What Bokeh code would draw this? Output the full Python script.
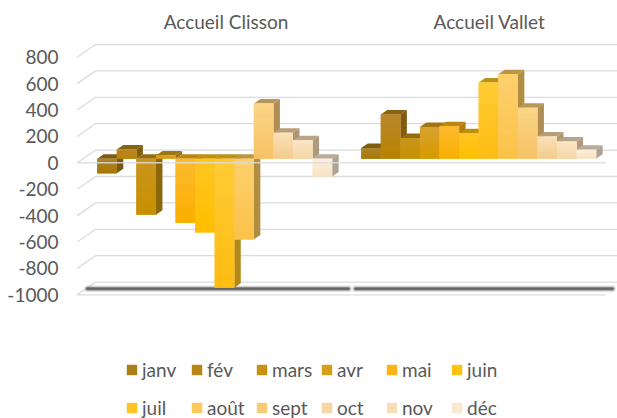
from bokeh.plotting import figure
from bokeh.models import Legend, LegendItem, FixedTicker, Range1d
from bokeh.core.properties import value
from bokeh.embed import file_html
from bokeh.resources import INLINE

months = ["janv", "fév", "mars", "avr", "mai", "juin", "juil", "août", "sept", "oct", "nov", "déc"]
groups = ["Accueil Clisson", "Accueil Vallet"]
clisson = [-110, 71, -424, 25, -485, -558, -977, -611, 419, 197, 141, -134]
vallet = [81, 336, 157, 240, 247, 194, 578, 641, 386, 169, 131, 68]
y_ticks = [800, 600, 400, 200, 0, -200, -400, -600, -800, -1000]

top_colors = ["#ab8430", "#b9862a", "#c8951f", "#d9a12e", "#fdb92e", "#ffc522",
              "#ffcb33", "#fdd06c", "#fbd485", "#fbe0b8", "#fbe6c8", "#fbeedd"]
bottom_colors = ["#a87700", "#b88300", "#c89000", "#d99a00", "#f9b000", "#ffbf00",
                 "#fdbd14", "#fbc24a", "#f6c266", "#f3cc8c", "#f5d6a5", "#f8e2c2"]

W, H = 617, 418
LEFT = 76
PX_X = 19.58          # pixels per bar
PX_Y = 26.4 / 200     # pixels per value unit
X0_PX = 96.7          # first bar's left edge
Y0_PX = 162.3         # zero on the front plane


def hexrgb(c):
    return [int(c[i:i + 2], 16) for i in (1, 3, 5)]


def mix(a, b, t):
    return "#%02x%02x%02x" % tuple(round(p + (q - p) * t) for p, q in zip(hexrgb(a), hexrgb(b)))


def shade(c, f):
    return "#%02x%02x%02x" % tuple(round(p * f) for p in hexrgb(c))


def xval(px):
    return (px - X0_PX) / PX_X


def yval(px):
    return (Y0_PX - px) / PX_Y


p = figure(width=W, height=H, output_backend="svg", toolbar_location=None,
           x_range=Range1d(xval(LEFT), xval(W)), y_range=Range1d(yval(H), yval(0)),
           x_axis_location=None, min_border_left=LEFT, min_border_right=0,
           min_border_top=0, min_border_bottom=0, outline_line_color=None)
p.xgrid.visible = False
p.ygrid.visible = False

ax = p.yaxis[0]
ax.ticker = FixedTicker(ticks=y_ticks)
ax.major_label_overrides = {t: str(t) for t in y_ticks}
ax.axis_line_color = None
ax.major_tick_line_color = None
ax.minor_tick_line_color = None
ax.major_tick_out = 0
ax.major_tick_in = 0
ax.minor_tick_out = 0
ax.minor_tick_in = 0
ax.major_label_standoff = 18
ax.major_label_text_font = "Lato"
ax.major_label_text_font_size = "19px"
ax.major_label_text_color = "#595959"

# walls
xf, xb, xe, xfe = xval(76.7), xval(95), xval(W), xval(605)
WALL_DX_Y = 12.7 / PX_Y
wall_xs, wall_ys = [], []
for t in y_ticks:
    wall_xs.append([xf, xb, xe])
    wall_ys.append([t, t + WALL_DX_Y, t + WALL_DX_Y])
p.multi_line(wall_xs, wall_ys, line_color="#dcdcdc", line_width=1.3)
p.line([xf, xfe], [-1000, -1000], line_color="#dcdcdc", line_width=1.3)

# floor shadow
sy = yval(288.3)
for (a, b) in ((xval(87), xval(348)), (xval(355), xval(612))):
    for lw, al in ((7, 0.1), (5, 0.2), (3.5, 0.4), (2, 0.5)):
        p.line([a, b], [sy, sy], line_color="#3c3c3c", line_width=lw, line_alpha=al, line_cap="round")

# bars
PLANE = 4 / PX_Y
DDX = 6.5 / PX_X
DDY = 4.5 / PX_Y
STEPS = 10
starts = [0, xval(360.7)]
series = [clisson, vallet]
legend_renderers = {}

for start, vals in zip(starts, series):
    for m, v in enumerate(vals):
        x = start + m
        top = max(v, 0) + PLANE
        bot = min(v, 0) + PLANE
        mid = mix(top_colors[m], bottom_colors[m], 0.5)
        p.patch([x + 1, x + 1 + DDX, x + 1 + DDX, x + 1], [bot, bot + DDY, top + DDY, top],
                fill_color=shade(mid, 0.7), line_color=None)
        p.patch([x, x + DDX, x + 1 + DDX, x + 1], [top, top + DDY, top + DDY, top],
                fill_color=shade(mid, 0.74), line_color=None)
        r = p.vbar(x=[x + 0.5], width=1, bottom=[bot], top=[top], fill_color=mid, line_color=None)
        legend_renderers.setdefault(m, r)
        h = (top - bot) / STEPS
        for s in range(STEPS):
            p.quad(left=[x], right=[x + 1], top=[top - s * h], bottom=[top - (s + 1) * h - 0.5],
                   fill_color=mix(top_colors[m], bottom_colors[m], s / (STEPS - 1)), line_color=None)

# front line at zero, passing over the bars
p.line([xf, xfe], [0, 0], line_color="#dcdcdc", line_width=1.5, line_alpha=0.85)

# group titles
p.text(x=[xval(225.5), xval(489)], y=[yval(21), yval(21)], text=groups,
       text_font=value("Lato"), text_font_size="19px", text_color="#595959",
       text_align="center", text_baseline="middle")

legend = Legend(items=[LegendItem(label=value(m), renderers=[legend_renderers[i]]) for i, m in enumerate(months)],
                ncols=6, location=(49, -8), orientation="horizontal",
                glyph_width=13, glyph_height=13, label_standoff=4,
                label_width=48, label_height=38, spacing=0, margin=0, padding=0,
                background_fill_alpha=0, border_line_color=None,
                label_text_font="Lato", label_text_font_size="19px", label_text_color="#595959")
p.add_layout(legend, "center")

open("out.html", "w").write(file_html(p, INLINE))
